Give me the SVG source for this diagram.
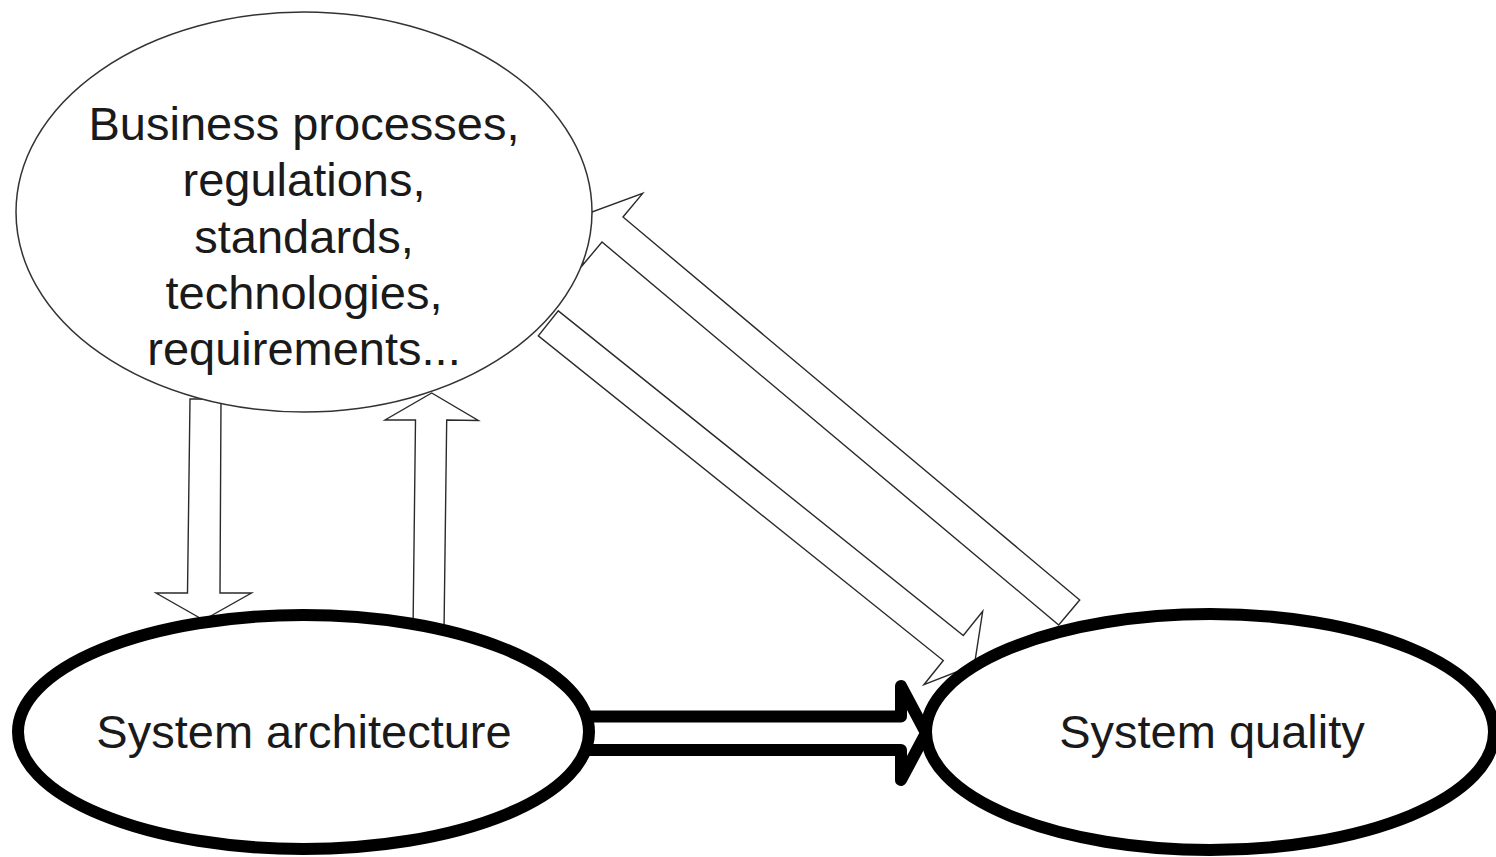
<svg xmlns="http://www.w3.org/2000/svg" width="1496" height="857" viewBox="0 0 1496 857">
  <style>
    .thin { fill: none; stroke: #2a2a2a; stroke-width: 1.4; stroke-linejoin: miter; }
    .thick { fill: none; stroke: #000; stroke-width: 12; stroke-linejoin: round; stroke-linecap: round; }
    .node-thin { fill: #fff; stroke: #333; stroke-width: 1.5; }
    .node-thick { fill: #fff; stroke: #000; stroke-width: 12; }
    .label { font-family: "Liberation Sans", Arial, sans-serif; font-size: 47px; fill: #1a1a1a; text-anchor: middle; }
  </style>
  <rect width="1496" height="857" fill="#fff"/>
  <g id="connectors">
    <polygon class="thin" points="190,399 187.5,593 156,593 203.5,620 251.5,593 220,593 221,399"/>
    <polygon class="thin" points="413,632 415.5,420 385,420 431.7,393 478.3,420.5 446.7,420 444,632"/>
    <polygon class="thin" points="1079.7,600 623,217 642.7,193.4 591.8,212.1 582.3,265.5 602,242 1058.7,625"/>
    <polygon class="thin" points="558.3,310.85 963.3,635.5 982.7,611.3 974.4,664.9 923.9,684.7 943.3,660.5 538.3,335.85"/>
    <path class="thick" d="M589,716.5 L901,716.5 L901,686 L926,733 L901,780 L901,750 L589,750"/>
  </g>
  <g id="node-context">
    <ellipse class="node-thin" cx="304" cy="212" rx="288" ry="200"/>
    <text class="label"><tspan x="304" y="140">Business processes,</tspan><tspan x="304" y="196.3">regulations,</tspan><tspan x="304" y="252.6">standards,</tspan><tspan x="304" y="308.9">technologies,</tspan><tspan x="304" y="365.2">requirements...</tspan></text>
  </g>
  <g id="node-architecture">
    <ellipse class="node-thick" cx="303.5" cy="732" rx="285.5" ry="117"/>
    <text class="label" x="304" y="748">System architecture</text>
  </g>
  <g id="node-quality">
    <ellipse class="node-thick" cx="1210" cy="732" rx="284" ry="118"/>
    <text class="label" x="1212" y="748">System quality</text>
  </g>
</svg>
